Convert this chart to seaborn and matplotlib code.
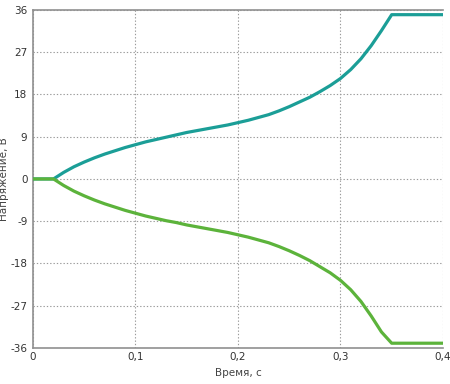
import numpy as np
import pandas as pd
import matplotlib
matplotlib.use("Agg")
import matplotlib.pyplot as plt
import seaborn as sns
from matplotlib.ticker import FuncFormatter

# time points, s
t = [0.0, 0.02, 0.03, 0.04, 0.05, 0.06, 0.07, 0.08, 0.09, 0.1, 0.11, 0.12,
     0.13, 0.14, 0.15, 0.16, 0.17, 0.18, 0.19, 0.2, 0.21, 0.22, 0.23, 0.24,
     0.25, 0.26, 0.27, 0.28, 0.29, 0.3, 0.31, 0.32, 0.33, 0.34, 0.35, 0.4]
# upper branch, V
u_pos = [0.0, 0.0, 1.4, 2.6, 3.6, 4.5, 5.3, 6.0, 6.7, 7.3, 7.9, 8.4,
         8.9, 9.4, 9.9, 10.3, 10.7, 11.1, 11.5, 12.0, 12.5, 13.1, 13.7, 14.5,
         15.4, 16.4, 17.4, 18.6, 19.9, 21.4, 23.3, 25.6, 28.4, 31.6, 35.0, 35.0]
# lower branch, V
u_neg = [0.0, 0.0, -1.4, -2.6, -3.6, -4.5, -5.3, -6.0, -6.7, -7.3, -7.9, -8.4,
         -8.9, -9.3, -9.8, -10.2, -10.6, -11.0, -11.4, -11.9, -12.4, -13.0, -13.6, -14.4,
         -15.3, -16.3, -17.4, -18.7, -20.0, -21.6, -23.6, -26.1, -29.2, -32.6, -35.0, -35.0]

x_ticks = [0, 0.1, 0.2, 0.3, 0.4]
y_ticks = [-36, -27, -18, -9, 0, 9, 18, 27, 36]

df = pd.DataFrame({"t": t + t,
                   "u": u_pos + u_neg,
                   "branch": ["pos"] * len(t) + ["neg"] * len(t)})

sns.set_style("white")
plt.rcParams["font.family"] = ["DejaVu Sans"]

fig = plt.figure(figsize=(4.5, 3.84), dpi=100)
ax = fig.add_axes([0.0733, 0.094, 0.911, 0.880])

sns.lineplot(data=df, x="t", y="u", hue="branch",
             palette={"pos": "#1b9e97", "neg": "#5cb33b"},
             linewidth=2.3, legend=False, ax=ax, zorder=3)

ax.set_xlim(0, 0.4)
ax.set_ylim(-36, 36)
ax.set_xticks(x_ticks)
ax.set_yticks(y_ticks)
ax.xaxis.set_major_formatter(FuncFormatter(
    lambda v, p: "0" if v == 0 else f"{v:.1f}".replace(".", ",")))
ax.yaxis.set_major_formatter(FuncFormatter(lambda v, p: f"{int(v)}"))

ax.grid(True, color="#9a9a9a", linestyle=(0, (1.2, 1.8)), linewidth=0.8)
for s in ["left", "bottom", "top"]:
    ax.spines[s].set_color("#909090")
    ax.spines[s].set_linewidth(1.2)
ax.spines["right"].set_visible(False)

ax.tick_params(axis="both", direction="out", length=3, width=0.8,
               color="#909090", labelsize=7.5, labelcolor="#333333", pad=1)
ax.tick_params(axis="x", length=0, pad=3)

ax.set_xlabel("Время, с", fontsize=7.5, color="#444444", labelpad=4)
ax.set_ylabel("Напряжение, В", fontsize=7.5, color="#444444")
ax.yaxis.set_label_coords(-0.058, 0.5)

fig.savefig("out.png", dpi=100)
